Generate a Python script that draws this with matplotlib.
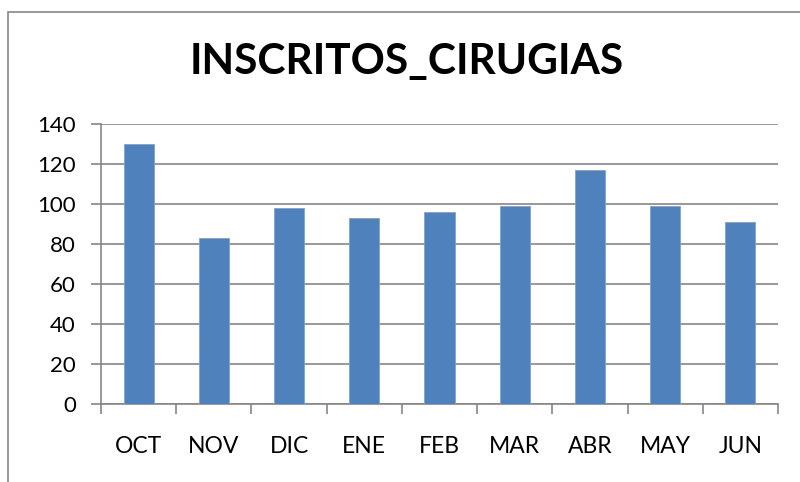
import numpy as np
import matplotlib
matplotlib.use("Agg")
import matplotlib.pyplot as plt
from matplotlib.patches import Rectangle

# monthly values
months = ["OCT", "NOV", "DIC", "ENE", "FEB", "MAR", "ABR", "MAY", "JUN"]
inscritos = [130, 83, 98, 93, 96, 99, 117, 99, 91]
y_ticks = [0, 20, 40, 60, 80, 100, 120, 140]

plt.rcParams['font.family'] = ['Lato', 'DejaVu Sans']

W, H = 800, 482
fig = plt.figure(figsize=(W / 100, H / 100), dpi=100)

# outer chart border (cut off on the right and bottom like the screenshot)
fig.patches.append(Rectangle((8 / W, -0.1), 1.2, 1 - 12 / H + 0.1,
                             transform=fig.transFigure, fill=False,
                             edgecolor="#868686", linewidth=1.2))

ax = fig.add_axes([101 / W, 1 - 404 / H, (778 - 101) / W, (404 - 124) / H])
x = np.arange(len(months))
ax.bar(x, inscritos, width=0.4, color="#4F81BD", edgecolor="#7FA3D3",
       linewidth=0.6, zorder=3)

ax.set_xlim(-0.5, len(months) - 0.5)
ax.set_ylim(0, 140)
ax.set_yticks(y_ticks)
ax.set_yticklabels([str(v) for v in y_ticks], fontsize=16)
ax.yaxis.grid(True, color="#868686", linewidth=1.2, zorder=0)

# category labels centred, tick marks at the category boundaries
ax.set_xticks(x)
ax.set_xticklabels(months, fontsize=16.5)
ax.tick_params(axis="x", length=0, pad=23)
ax.set_xticks(np.arange(-0.5, len(months)), minor=True)
ax.tick_params(axis="x", which="minor", length=7, color="#868686", width=1.2)
ax.tick_params(axis="y", length=7, color="#868686", width=1.2, pad=11)

for side in ["top", "right"]:
    ax.spines[side].set_visible(False)
for side in ["left", "bottom"]:
    ax.spines[side].set_color("#868686")
    ax.spines[side].set_linewidth(1.2)

fig.text(407 / W, 1 - 62 / H, "INSCRITOS_CIRUGIAS", ha="center", va="center",
         fontsize=30.5, fontweight="bold")

fig.savefig("out.png", dpi=100)
